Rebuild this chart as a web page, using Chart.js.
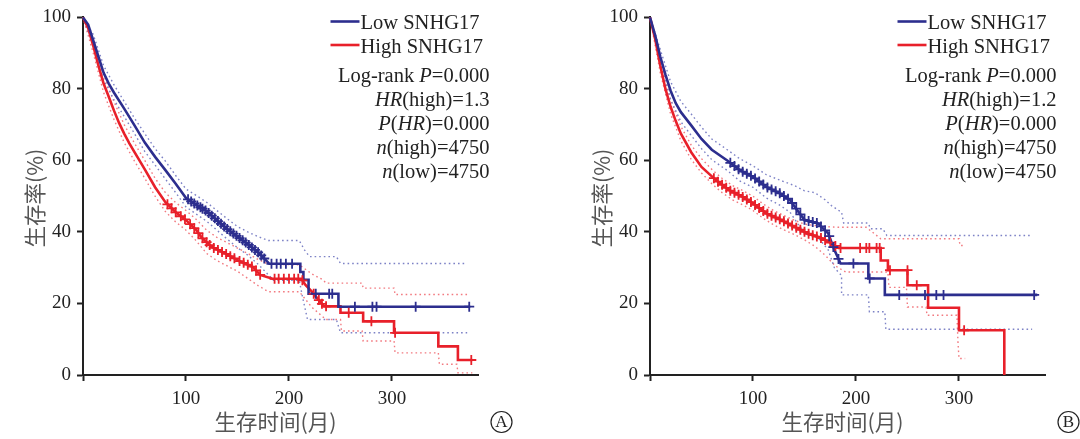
<!DOCTYPE html>
<html>
<head>
<meta charset="utf-8">
<script src="https://cdn.jsdelivr.net/npm/chart.js@4.4.1/dist/chart.umd.min.js"></script>
<style>
  body { margin: 0; background: #fff; }
  canvas { position: absolute; top: 0; }
</style>
</head>
<body>
<canvas id="chartA" width="540" height="439" style="left:0"></canvas>
<canvas id="chartB" width="540" height="439" style="left:540px"></canvas>
<script>
// ---------- panel A ----------
const lowA_t = [0, 5, 10, 15, 20, 25, 30, 40, 50, 60, 70, 80, 90, 100, 110, 120, 130, 140, 150, 160, 170, 178, 181, 211, 211, 214, 214, 219, 219, 248, 248, 376];
const lowA_s = [100, 98, 93.5, 89, 84.5, 81.5, 79, 74.5, 69.8, 65, 61, 57.3, 53.5, 49.5, 47.6, 45.8, 43.3, 40.8, 38.7, 36.6, 34.3, 32, 31.1, 31.1, 28.8, 28.8, 26.6, 26.6, 22.7, 22.7, 19.1, 19.1];
const highA_t = [0, 5, 10, 15, 20, 25, 30, 35, 40, 45, 50, 60, 70, 80, 90, 100, 110, 115, 125, 138, 151, 165, 172, 184, 212, 216, 222, 228, 234, 250, 250, 272, 272, 302, 302, 345, 345, 364, 364, 378];
const highA_s = [100, 97, 92, 86.5, 81.5, 77.8, 74, 70.5, 67.5, 64.8, 62.3, 57.5, 52.5, 48.3, 45.5, 43.3, 40.5, 38.5, 35.8, 34, 32, 30.2, 28, 26.9, 26.9, 25.2, 23.4, 21.3, 19.2, 19.2, 17.4, 17.4, 15, 15, 11.8, 11.8, 8, 8, 4.2, 4.2];
const lowA_up_t = [0, 10, 20, 30, 40, 50, 60, 70, 80, 90, 100, 110, 120, 130, 140, 150, 160, 170, 180, 210, 215, 220, 246, 250, 373];
const lowA_up_s = [100, 95.2, 86.5, 81.2, 76.5, 71.8, 67.5, 63.3, 59.8, 55.8, 52, 50.2, 48.3, 46, 43.7, 41.5, 40, 38.7, 37.6, 37.6, 35, 33.1, 33.1, 31.2, 31.2];
const lowA_lo_t = [0, 10, 20, 30, 40, 50, 60, 70, 80, 90, 100, 110, 120, 130, 140, 150, 160, 170, 180, 185, 210, 213, 218, 246, 250, 373];
const lowA_lo_s = [100, 91.8, 82.5, 77, 72.3, 67.5, 62.5, 58.7, 54.8, 51, 47, 45, 43, 40.5, 38, 35.6, 33.5, 31, 28, 26.5, 26.5, 22, 15.5, 15.5, 11.8, 11.8];
const highA_up_t = [0, 10, 20, 30, 40, 50, 60, 70, 80, 90, 100, 110, 120, 130, 140, 150, 160, 170, 180, 210, 222, 233, 236, 271, 272, 302, 303, 375];
const highA_up_s = [100, 94, 84, 76.5, 70, 64.8, 60, 55, 51, 48.2, 46, 43.5, 40.5, 38.5, 37, 35.5, 34, 32.3, 31, 30.8, 28.3, 26.6, 25.7, 25.7, 24.3, 24.3, 22.5, 22.5];
const highA_lo_t = [0, 10, 20, 30, 40, 50, 60, 70, 80, 90, 100, 110, 120, 130, 140, 150, 160, 170, 180, 210, 222, 236, 250, 251, 271, 272, 302, 303, 345, 346, 363, 364, 378];
const highA_lo_s = [100, 90, 79, 71.5, 65, 59.8, 55, 50, 45.7, 42.8, 40.5, 37.5, 34, 32, 30.5, 29, 27, 25, 23.3, 23.3, 19, 15.5, 15.5, 12.3, 12.3, 9.5, 9.5, 6.2, 6.2, 3, 3, 0.6, 0.6];
const lowA_cens = [102, 105, 108, 111, 114, 116, 119, 122, 125, 128, 131, 134, 137, 140, 143, 146, 149, 152, 155, 158, 161, 164, 167, 170, 173, 176, 183, 188, 192, 197, 203, 226, 239, 242, 264, 281, 285, 323, 375];
const highA_cens = [82, 86, 90, 95, 99, 104, 108, 112, 116, 120, 123, 127, 131, 135, 139, 143, 147, 152, 156, 160, 164, 168, 172, 186, 190, 195, 200, 205, 209, 213, 224, 229, 232, 236, 258, 280, 303, 377];

// ---------- panel B ----------
const lowB_t = [0, 5, 10, 15, 20, 25, 30, 40, 50, 60, 75, 87, 100, 113, 126, 136, 143, 150, 163, 173, 179, 185, 212, 212, 228, 228, 376];
const lowB_s = [100, 95, 89, 84, 79.5, 76, 73.5, 69.8, 66, 63, 60, 57.3, 55.4, 52.6, 50.8, 48.9, 46.1, 43.4, 42.4, 39.6, 35, 31.2, 31.2, 27, 27, 22.4, 22.4];
const highB_t = [0, 5, 10, 15, 20, 25, 30, 40, 50, 64, 77, 90, 100, 113, 127, 140, 153, 166, 176, 183, 224, 224, 231, 231, 250, 250, 270, 270, 300, 300, 344, 344];
const highB_s = [100, 94, 86.5, 80, 75, 71, 67.5, 62.3, 58.2, 54.5, 51.7, 49.8, 48, 45.2, 43.4, 41.5, 39.6, 38.3, 36.9, 35.5, 35.5, 32, 32, 29.3, 29.3, 25.1, 25.1, 18.8, 18.8, 12.5, 12.5, 0];
const lowB_up_t = [0, 10, 20, 30, 40, 50, 60, 75, 87, 100, 113, 126, 140, 150, 160, 170, 176, 186, 188, 212, 214, 226, 230, 371];
const lowB_up_s = [100, 91, 82, 76.5, 73, 69.3, 66, 63, 60.5, 58.5, 56, 54.5, 53, 51.5, 51, 49, 47.4, 45.5, 42.5, 42.5, 40.9, 40.9, 39, 39];
const lowB_lo_t = [0, 10, 20, 30, 40, 50, 60, 75, 87, 100, 113, 126, 136, 143, 150, 163, 173, 179, 186, 186, 212, 213, 228, 229, 371];
const lowB_lo_s = [100, 87, 77, 70.8, 67, 63.3, 60.2, 57.2, 54.3, 52.5, 49.5, 47.5, 45.5, 42.5, 39.5, 38.5, 35, 30, 27.8, 22.4, 22.4, 17.7, 17.7, 12.8, 12.8];
const highB_up_t = [0, 10, 20, 30, 40, 50, 60, 70, 80, 90, 100, 110, 120, 130, 140, 150, 160, 170, 183, 210, 224, 300, 301, 306];
const highB_up_s = [100, 88.5, 77, 69.5, 64.3, 60.5, 57.5, 55, 53, 51.6, 50, 47.8, 46, 44.6, 43.3, 42.2, 41.8, 41.5, 41.3, 41.3, 38.1, 38.1, 36.2, 36.2];
const highB_lo_t = [0, 10, 20, 30, 40, 50, 60, 70, 80, 90, 100, 110, 120, 130, 140, 150, 160, 170, 180, 190, 231, 232, 249, 250, 268, 269, 298, 299, 300, 306];
const highB_lo_s = [100, 84.5, 73, 65.5, 60.3, 56.5, 53.5, 51, 49, 47.6, 46, 43.8, 42, 40.6, 39.3, 37.8, 36, 33.5, 30.5, 28.8, 28.8, 24.5, 24.5, 19, 19, 16.7, 16.7, 9.3, 4.6, 4.6];
const lowB_cens = [78, 82, 86, 90, 94, 98, 102, 106, 110, 114, 118, 122, 126, 130, 134, 138, 142, 146, 150, 154, 158, 162, 166, 170, 174, 178, 183, 197.5, 213.3, 242, 267, 278, 285, 373];
const highB_cens = [62, 66, 70, 74, 78, 82, 86, 90, 94, 98, 102, 106, 110, 114, 118, 122, 126, 130, 134, 138, 142, 146, 150, 154, 158, 162, 166, 170, 175, 180, 185, 204, 210, 213, 220, 223, 233, 250, 259, 305];

// axis ticks
const xTicks = [0, 100, 200, 300];
const yTicks = [0, 20, 40, 60, 80, 100];

// texts
const legendLabels = ["Low SNHG17", "High SNHG17"];
const statsA = [
  [["Log-rank ", false], ["P", true], ["=0.000", false]],
  [["HR", true], ["(high)=1.3", false]],
  [["P", true], ["(", false], ["HR", true], [")=0.000", false]],
  [["n", true], ["(high)=4750", false]],
  [["n", true], ["(low)=4750", false]]
];
const statsB = [
  [["Log-rank ", false], ["P", true], ["=0.000", false]],
  [["HR", true], ["(high)=1.2", false]],
  [["P", true], ["(", false], ["HR", true], [")=0.000", false]],
  [["n", true], ["(high)=4750", false]],
  [["n", true], ["(low)=4750", false]]
];

const BLUE = "#2C2E8E", RED = "#E8202A";
const BLUE_CI = "#7D82C6", RED_CI = "#F27A80";
const SERIF = '"Liberation Serif", "DejaVu Serif", serif';
const CJK = '"Noto Sans CJK SC", sans-serif';

function pts(t, s) {
  return t.map((v, i) => ({ x: v, y: s[i] }));
}
// survival value at time x (linear between listed points)
function at(t, s, x) {
  for (let i = 1; i < t.length; i++) {
    if (x <= t[i]) {
      if (t[i] === t[i - 1]) return s[i];
      return s[i - 1] + (s[i] - s[i - 1]) * (x - t[i - 1]) / (t[i] - t[i - 1]);
    }
  }
  return s[s.length - 1];
}

function mainLine(t, s, color) {
  return { data: pts(t, s), borderColor: color, borderWidth: 2.6, pointRadius: 0, clip: false, order: 2 };
}
function ciLine(t, s, color) {
  return { data: pts(t, s), borderColor: color, borderWidth: 1.4, borderDash: [1.6, 3], pointRadius: 0, clip: false, order: 3 };
}
function censor(times, t, s, color) {
  return {
    data: times.map(x => ({ x: x, y: at(t, s, x) })),
    showLine: false, pointStyle: "cross", pointRadius: 5, borderColor: color,
    borderWidth: 1.8, clip: false, order: 1
  };
}

function textPlugin(letter, stats) {
  return {
    id: "panel" + letter,
    afterDraw(chart) {
      const ctx = chart.ctx;
      const xs = chart.scales.x, ys = chart.scales.y;
      const r = xs.right;
      const fs = "20.5px ";
      ctx.save();
      // legend
      const cols = [BLUE, RED];
      ctx.font = fs + SERIF;
      ctx.textBaseline = "alphabetic";
      ctx.textAlign = "left";
      for (let i = 0; i < 2; i++) {
        const ly = 21.5 + i * 23.5;
        ctx.strokeStyle = cols[i];
        ctx.lineWidth = 2.6;
        ctx.beginPath();
        ctx.moveTo(r - 148, ly);
        ctx.lineTo(r - 119, ly);
        ctx.stroke();
        ctx.fillStyle = "#222";
        ctx.fillText(legendLabels[i], r - 118, 29 + i * 23.5);
      }
      // statistics, right aligned, with italics
      stats.forEach((line, i) => {
        let w = 0;
        line.forEach(([txt, it]) => {
          ctx.font = (it ? "italic " : "") + fs + SERIF;
          w += ctx.measureText(txt).width;
        });
        let x = r + 11 - w;
        line.forEach(([txt, it]) => {
          ctx.font = (it ? "italic " : "") + fs + SERIF;
          ctx.fillText(txt, x, 82 + i * 24);
          x += ctx.measureText(txt).width;
        });
      });
      // axis titles
      ctx.fillStyle = "#555";
      ctx.font = "21.5px " + CJK;
      ctx.textAlign = "center";
      ctx.textBaseline = "middle";
      ctx.fillText("生存时间(月)", xs.getPixelForValue(187), 422);
      ctx.save();
      ctx.translate(xs.left - 48, (ys.top + ys.bottom) / 2 + 2);
      ctx.rotate(-Math.PI / 2);
      ctx.fillText("生存率(%)", 0, 0);
      ctx.restore();
      // circled panel letter
      const cx = r + 23, cy = 422;
      ctx.strokeStyle = "#222";
      ctx.lineWidth = 1.2;
      ctx.beginPath();
      ctx.arc(cx, cy, 10.5, 0, Math.PI * 2);
      ctx.stroke();
      ctx.fillStyle = "#222";
      ctx.font = "17px " + SERIF;
      ctx.fillText(letter, cx, cy + 1);
      ctx.restore();
    }
  };
}

function makeChart(id, letter, stats, axisLeft, sets) {
  const width = 395.5;
  return new Chart(document.getElementById(id), {
    type: "line",
    data: { datasets: sets },
    options: {
      responsive: false,
      animation: false,
      layout: { padding: { left: 0, top: 16, right: 540 - axisLeft - width, bottom: 0 } },
      scales: {
        x: {
          type: "linear", min: 0, max: 384,
          afterFit(s) { s.height = 64; },
          afterBuildTicks(s) { s.ticks = xTicks.map(v => ({ value: v })); },
          grid: { drawOnChartArea: false, tickLength: 6, tickWidth: 2, tickColor: "#222" },
          border: { color: "#222", width: 2 },
          ticks: {
            color: "#222", font: { family: SERIF, size: 19 }, padding: 7, maxRotation: 0,
            callback: v => (v === 0 ? "" : String(v))
          }
        },
        y: {
          min: 0, max: 100,
          afterFit(s) { s.width = axisLeft; },
          afterBuildTicks(s) { s.ticks = yTicks.map(v => ({ value: v })); },
          grid: { drawOnChartArea: false, tickLength: 6, tickWidth: 2, tickColor: "#222" },
          border: { color: "#222", width: 2 },
          ticks: { color: "#222", font: { family: SERIF, size: 19 }, padding: 6 }
        }
      },
      plugins: { legend: { display: false }, tooltip: { enabled: false } }
    },
    plugins: [textPlugin(letter, stats)]
  });
}

makeChart("chartA", "A", statsA, 83, [
  censor(lowA_cens, lowA_t, lowA_s, BLUE),
  censor(highA_cens, highA_t, highA_s, RED),
  mainLine(lowA_t, lowA_s, BLUE),
  mainLine(highA_t, highA_s, RED),
  ciLine(lowA_up_t, lowA_up_s, BLUE_CI),
  ciLine(lowA_lo_t, lowA_lo_s, BLUE_CI),
  ciLine(highA_up_t, highA_up_s, RED_CI),
  ciLine(highA_lo_t, highA_lo_s, RED_CI)
]);

makeChart("chartB", "B", statsB, 110, [
  censor(lowB_cens, lowB_t, lowB_s, BLUE),
  censor(highB_cens, highB_t, highB_s, RED),
  mainLine(lowB_t, lowB_s, BLUE),
  mainLine(highB_t, highB_s, RED),
  ciLine(lowB_up_t, lowB_up_s, BLUE_CI),
  ciLine(lowB_lo_t, lowB_lo_s, BLUE_CI),
  ciLine(highB_up_t, highB_up_s, RED_CI),
  ciLine(highB_lo_t, highB_lo_s, RED_CI)
]);
</script>
</body>
</html>
